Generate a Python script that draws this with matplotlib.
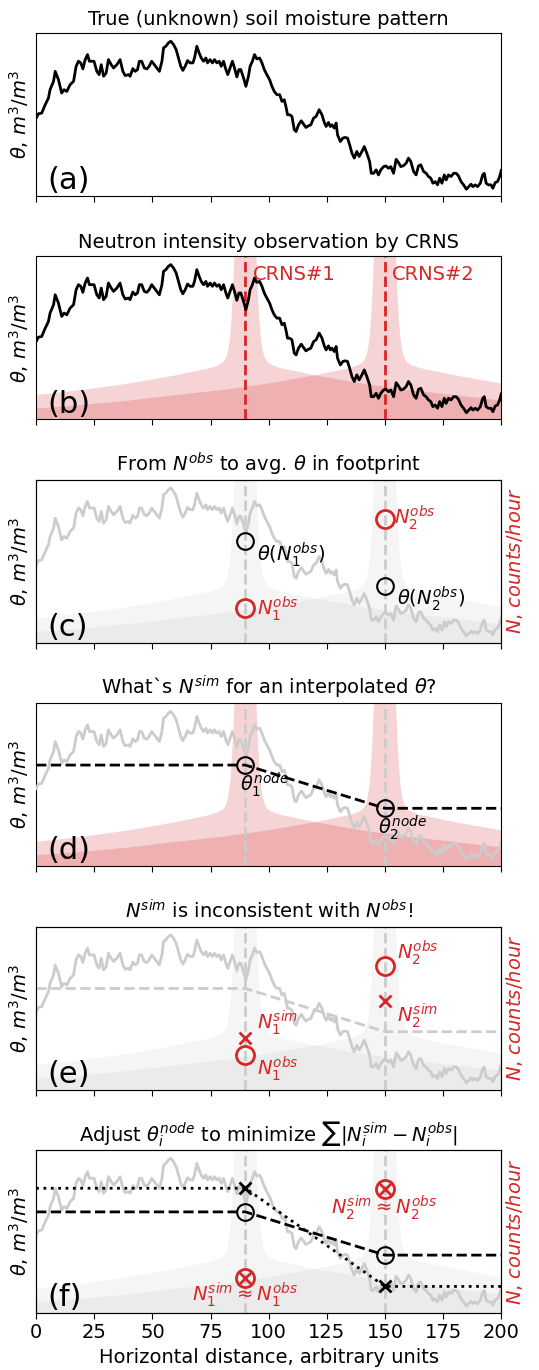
import numpy as np
import matplotlib.pyplot as plt

RED = '#d62728'
GREY = '#cccccc'

# true soil moisture along the transect (axis fraction)
dist = [0.0, 1.0, 2.4, 3.9, 5.3, 6.0, 7.5, 8.2, 9.6, 11.0, 12.0, 13.2, 14.6, 16.1, 17.2, 18.2, 19.2, 20.1,
        21.1, 22.1, 22.9, 23.9, 24.9, 26.1, 27.1, 28.0, 29.0, 30.1, 31.1, 32.3, 33.3, 34.7, 36.1, 37.3, 38.3,
        39.7, 40.4, 41.6, 42.6, 43.6, 44.4, 45.4, 46.5, 47.6, 48.6, 49.7, 50.8, 51.9, 53.0, 54.1, 54.8, 55.8,
        56.9, 57.9, 59.1, 60.2, 61.2, 62.2, 63.1, 64.1, 65.1, 66.2, 67.4, 68.1, 69.1, 70.1, 71.0, 72.0, 73.0,
        73.7, 74.8, 75.8, 76.7, 77.7, 78.7, 79.6, 80.6, 81.6, 82.4, 83.4, 84.4, 85.3, 86.3, 87.2, 88.0, 89.2,
        90.2, 91.3, 92.0, 93.0, 93.9, 94.9, 96.1, 97.1, 98.1, 99.2, 100.4, 101.4, 102.4, 103.5, 104.7, 105.7,
        106.7, 107.4, 108.1, 109.0, 110.0, 111.0, 111.8, 112.8, 114.0, 115.0, 116.0, 117.1, 118.1, 119.3,
        120.4, 121.7, 122.9, 123.9, 124.7, 125.7, 126.5, 127.2, 128.2, 129.0, 129.6, 130.8, 131.9, 132.9,
        133.9, 134.8, 135.8, 136.8, 137.9, 138.9, 140.1, 141.1, 142.2, 143.4, 144.1, 145.1, 146.2, 147.2,
        148.2, 149.4, 150.4, 151.5, 152.5, 153.7, 154.8, 155.8, 156.8, 158.0, 159.1, 160.1, 161.1, 162.3,
        163.4, 164.4, 165.4, 166.6, 167.7, 168.7, 169.7, 170.6, 171.6, 172.6, 173.5, 174.5, 175.5, 176.3,
        177.3, 178.4, 179.5, 180.6, 181.6, 182.7, 183.8, 185.0, 186.0, 187.0, 187.8, 188.8, 189.8, 191.0,
        192.0, 192.7, 193.5, 194.5, 195.6, 196.4, 197.4, 198.4, 199.3, 200.0]
theta = [0.477, 0.504, 0.508, 0.559, 0.600, 0.652, 0.703, 0.764, 0.713, 0.631, 0.652, 0.641, 0.682, 0.703,
         0.795, 0.826, 0.816, 0.779, 0.836, 0.867, 0.826, 0.826, 0.826, 0.764, 0.744, 0.805, 0.734, 0.754,
         0.836, 0.805, 0.785, 0.805, 0.836, 0.764, 0.738, 0.744, 0.734, 0.781, 0.764, 0.775, 0.826, 0.826,
         0.785, 0.779, 0.795, 0.826, 0.805, 0.785, 0.764, 0.826, 0.908, 0.918, 0.939, 0.949, 0.928, 0.898,
         0.846, 0.795, 0.770, 0.795, 0.830, 0.816, 0.816, 0.846, 0.918, 0.877, 0.846, 0.826, 0.846, 0.816,
         0.836, 0.816, 0.836, 0.816, 0.826, 0.795, 0.826, 0.775, 0.744, 0.785, 0.826, 0.785, 0.730, 0.775,
         0.775, 0.723, 0.672, 0.734, 0.795, 0.826, 0.867, 0.840, 0.846, 0.816, 0.775, 0.744, 0.713, 0.672,
         0.641, 0.621, 0.621, 0.580, 0.590, 0.549, 0.498, 0.498, 0.488, 0.406, 0.395, 0.436, 0.461, 0.441,
         0.420, 0.430, 0.436, 0.477, 0.488, 0.529, 0.498, 0.451, 0.426, 0.451, 0.426, 0.436, 0.416, 0.447,
         0.375, 0.334, 0.355, 0.359, 0.355, 0.314, 0.262, 0.232, 0.273, 0.242, 0.273, 0.303, 0.262, 0.211,
         0.139, 0.139, 0.160, 0.129, 0.160, 0.180, 0.184, 0.170, 0.180, 0.139, 0.225, 0.205, 0.180, 0.186,
         0.201, 0.232, 0.211, 0.150, 0.129, 0.184, 0.191, 0.150, 0.139, 0.119, 0.109, 0.078, 0.088, 0.068,
         0.109, 0.078, 0.129, 0.098, 0.129, 0.119, 0.139, 0.139, 0.123, 0.088, 0.068, 0.041, 0.057, 0.072,
         0.057, 0.068, 0.057, 0.078, 0.129, 0.139, 0.078, 0.068, 0.068, 0.047, 0.082, 0.088, 0.119, 0.156]

stations = [90, 150]
station_names = ['CRNS#1', 'CRNS#2']

# footprint weight vs. distance from the probe
foot_r = [0, 4.0, 4.5, 5.0, 5.5, 6.0, 6.5, 7.0, 7.5, 8.0, 9.0, 10.0, 12.0, 15.0, 20.0, 30.0, 50.0,
          70.0, 90.0, 110.0, 130.0, 150.0]
foot_w = [5.0, 1.35, 1.1, 0.9, 0.74, 0.61, 0.52, 0.46, 0.42, 0.39, 0.36, 0.345, 0.33, 0.315, 0.30,
          0.27, 0.22, 0.18, 0.149, 0.115, 0.088, 0.067]

theta_obs = [0.623, 0.351]       # theta(N_obs)
n_obs = [0.212, 0.76]
n_sim = [0.315, 0.545]
theta_node = [0.62, 0.355]
theta_node_adj = [0.765, 0.163]

titles = ['True (unknown) soil moisture pattern',
          'Neutron intensity observation by CRNS',
          r'From $N^{obs}$ to avg. $\theta$ in footprint',
          r'What`s $N^{sim}$ for an interpolated $\theta$?',
          r'$N^{sim}$ is inconsistent with $N^{obs}$!',
          r'Adjust $\theta_i^{node}$ to minimize $\sum|N_i^{sim} - N_i^{obs}|$']


def draw_footprints(ax, color, alpha):
    r = np.array(foot_r)
    w = np.array(foot_w)
    for xs in stations:
        x = np.concatenate([xs - r[::-1], xs + r])
        y = np.concatenate([w[::-1], w])
        ax.fill_between(x, 0, y, color=color, alpha=alpha, lw=0, zorder=1)


def draw_verticals(ax, color):
    for xs in stations:
        ax.axvline(xs, color=color, ls='--', lw=2, zorder=2)


def node_line(vals):
    return [0] + stations + [200], [vals[0]] + list(vals) + [vals[-1]]


def add_n_axis(ax):
    ax2 = ax.twinx()
    ax2.set_ylim(0, 1)
    ax2.set_yticks([])
    ax2.set_ylabel(r'$N$, $counts/hour$', color=RED, fontsize=14, labelpad=2)
    return ax2


fig, axes = plt.subplots(6, 1, figsize=(5.39, 13.7), dpi=100, sharex=True)
fig.subplots_adjust(left=0.067, right=0.93, top=0.976, bottom=0.0416, hspace=0.37)

for ax, letter, title in zip(axes, 'abcdef', titles):
    ax.set_xlim(0, 200)
    ax.set_ylim(0, 1)
    ax.set_yticks([])
    ax.set_xticks(np.arange(0, 201, 25))
    ax.tick_params(axis='x', labelsize=14, length=4)
    ax.set_ylabel(r'$\theta$, $m^3/m^3$', fontsize=14)
    ax.set_title(title, fontsize=14)
    ax.text(0.025, 0.005, '(%s)' % letter, transform=ax.transAxes, fontsize=22, va='bottom', zorder=5)

axes[-1].set_xlabel('Horizontal distance, arbitrary units', fontsize=14)

# (a)
axes[0].plot(dist, theta, color='k', lw=2)

# (b)
ax = axes[1]
draw_footprints(ax, RED, 0.2)
ax.plot(dist, theta, color='k', lw=2, zorder=3)
draw_verticals(ax, RED)
for xs, name in zip(stations, station_names):
    ax.text(xs + 3, 0.89, name, color=RED, fontsize=14, va='center')

# (c)
ax = axes[2]
draw_footprints(ax, 'gray', 0.08)
ax.plot(dist, theta, color=GREY, lw=2, zorder=3)
draw_verticals(ax, GREY)
ax.plot(stations, theta_obs, 'o', mfc='none', mec='k', ms=12, mew=1.5, zorder=4)
ax2 = add_n_axis(ax)
ax2.plot(stations, n_obs, 'o', mfc='none', mec=RED, ms=13, mew=2)
ax.text(95, 0.54, r'$\theta(N_1^{obs})$', fontsize=14, va='center')
ax.text(155, 0.27, r'$\theta(N_2^{obs})$', fontsize=14, va='center')
ax2.text(95, n_obs[0], r'$N_1^{obs}$', fontsize=14, va='center', color=RED)
ax2.text(154, n_obs[1] + 0.01, r'$N_2^{obs}$', fontsize=14, va='center', color=RED)

# (d)
ax = axes[3]
draw_footprints(ax, RED, 0.2)
ax.plot(dist, theta, color=GREY, lw=2, zorder=3)
draw_verticals(ax, GREY)
nx, ny = node_line(theta_node)
ax.plot(nx, ny, color='k', ls='--', lw=2, zorder=4)
ax.plot(stations, theta_node, 'o', mfc='none', mec='k', ms=12, mew=1.5, zorder=5)
ax.text(87.5, 0.5, r'$\theta_1^{node}$', fontsize=14, va='center')
ax.text(147, 0.235, r'$\theta_2^{node}$', fontsize=14, va='center')

# (e)
ax = axes[4]
draw_footprints(ax, 'gray', 0.08)
ax.plot(dist, theta, color=GREY, lw=2, zorder=3)
draw_verticals(ax, GREY)
ax.plot(nx, ny, color=GREY, ls='--', lw=2, zorder=3)
ax2 = add_n_axis(ax)
ax2.plot(stations, n_obs, 'o', mfc='none', mec=RED, ms=13, mew=2)
ax2.plot(stations, n_sim, 'x', color=RED, ms=9, mew=2)
ax2.text(95, 0.41, r'$N_1^{sim}$', fontsize=14, va='center', color=RED)
ax2.text(95, 0.13, r'$N_1^{obs}$', fontsize=14, va='center', color=RED)
ax2.text(155, 0.84, r'$N_2^{obs}$', fontsize=14, va='center', color=RED)
ax2.text(155, 0.455, r'$N_2^{sim}$', fontsize=14, va='center', color=RED)

# (f)
ax = axes[5]
draw_footprints(ax, 'gray', 0.08)
ax.plot(dist, theta, color=GREY, lw=2, zorder=3)
draw_verticals(ax, GREY)
ax.plot(nx, ny, color='k', ls='--', lw=2, zorder=4)
ax.plot(stations, theta_node, 'o', mfc='none', mec='k', ms=12, mew=1.5, zorder=5)
ax_, ay_ = node_line(theta_node_adj)
ax.plot(ax_, ay_, color='k', ls=':', lw=2, zorder=4)
ax.plot(stations, theta_node_adj, 'x', color='k', ms=9, mew=2, zorder=5)
ax2 = add_n_axis(ax)
ax2.plot(stations, n_obs, 'o', mfc='none', mec=RED, ms=13, mew=2)
ax2.plot(stations, n_obs, 'x', color=RED, ms=8, mew=2)
ax2.text(90, 0.11, r'$N_1^{sim} \approx N_1^{obs}$', fontsize=14, ha='center', va='center', color=RED)
ax2.text(149.5, 0.645, r'$N_2^{sim} \approx N_2^{obs}$', fontsize=14, ha='center', va='center', color=RED)

fig.savefig('out.png', dpi=100)
